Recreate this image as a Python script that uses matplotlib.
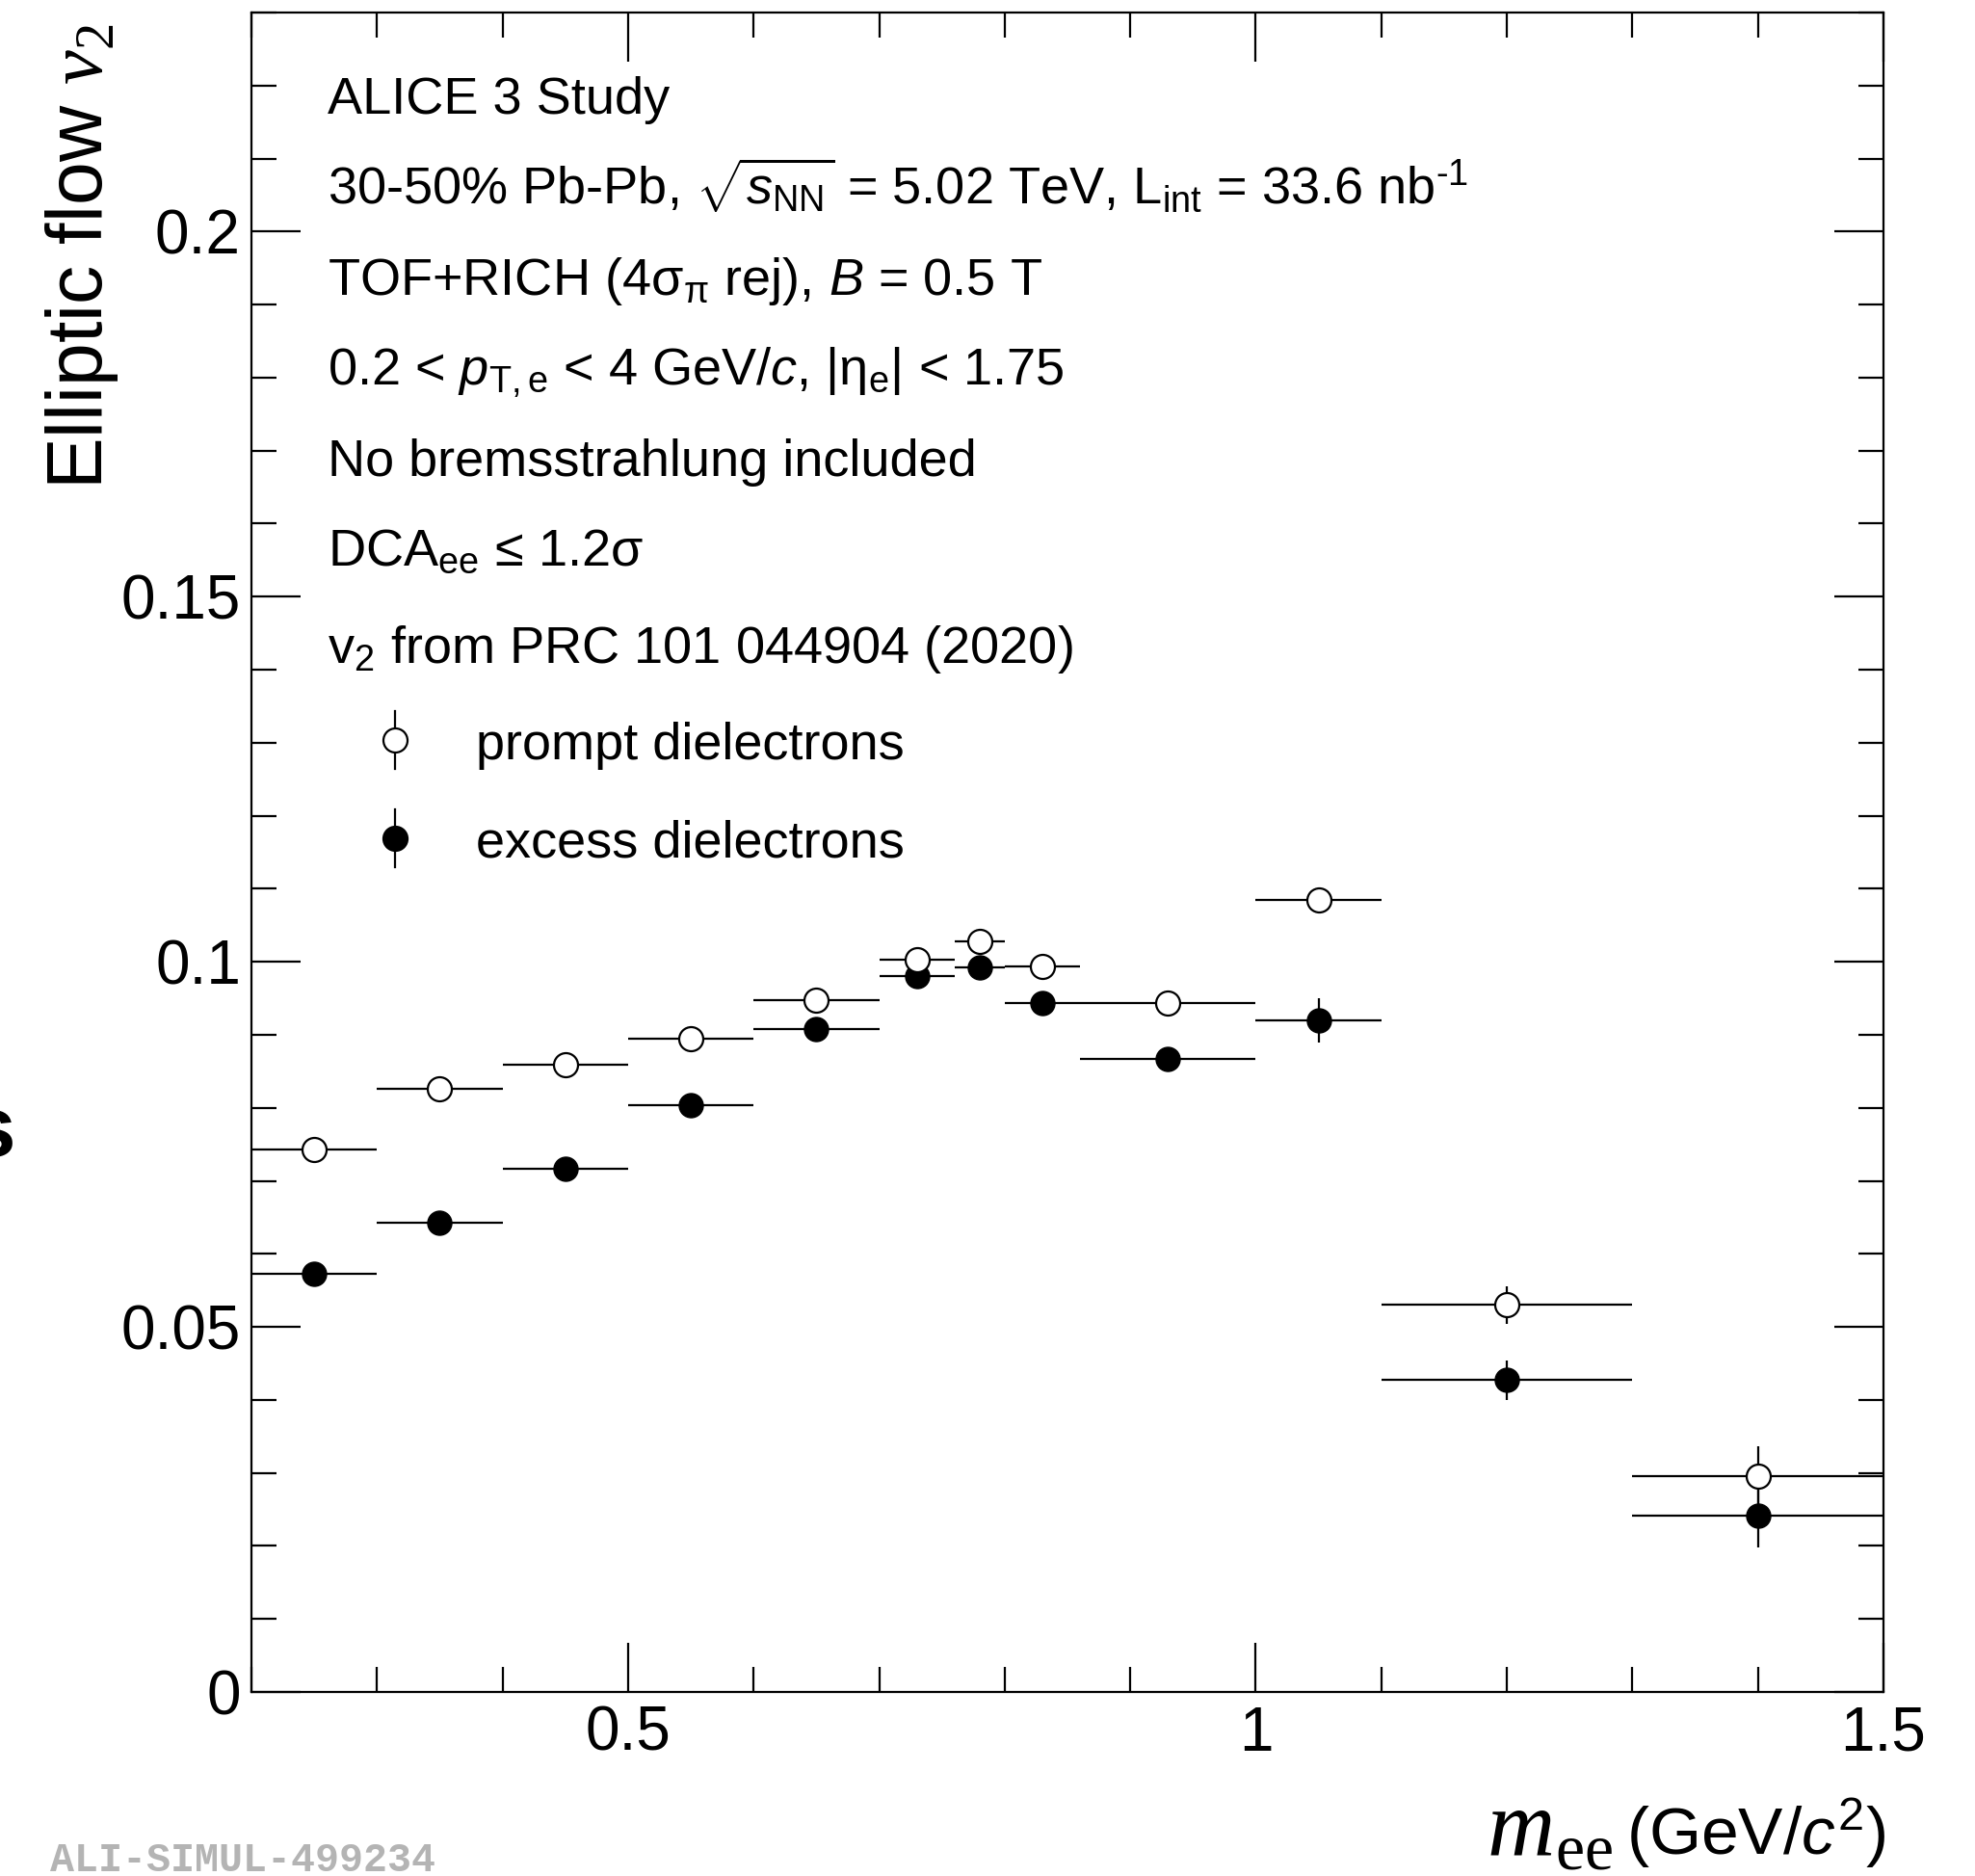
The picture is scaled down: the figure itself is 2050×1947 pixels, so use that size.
import matplotlib
matplotlib.use("Agg")
import matplotlib.pyplot as plt
import numpy as np
from matplotlib.lines import Line2D
from matplotlib.ticker import MultipleLocator, FixedLocator, FuncFormatter

plt.rcParams['font.family'] = ['Liberation Sans', 'DejaVu Sans']
plt.rcParams['mathtext.fontset'] = 'custom'
plt.rcParams['mathtext.rm'] = 'Liberation Sans'
plt.rcParams['mathtext.it'] = 'Liberation Sans:italic'
plt.rcParams['mathtext.sf'] = 'Liberation Serif'
plt.rcParams['mathtext.cal'] = 'Liberation Serif:italic'

# bins in m_ee (GeV/c^2)
mass_edges = np.array([0.2, 0.3, 0.4, 0.5, 0.6, 0.7, 0.76, 0.8, 0.86, 1.0, 1.1, 1.3, 1.5])

# prompt dielectrons v2
prompt_v2 = [0.0743, 0.0826, 0.0859, 0.0895, 0.0947, 0.1003, 0.1028, 0.0994,
             0.0943, 0.1085, 0.0530, 0.0295]
prompt_err = [0.0008, 0.0008, 0.0008, 0.0008, 0.0009, 0.0010, 0.0010, 0.0010,
              0.0010, 0.0012, 0.0026, 0.0041]

# excess dielectrons v2
excess_v2 = [0.0573, 0.0642, 0.0716, 0.0803, 0.0908, 0.0981, 0.0992, 0.0944,
             0.0867, 0.0920, 0.0427, 0.0241]
excess_err = [0.0009, 0.0009, 0.0009, 0.0010, 0.0010, 0.0011, 0.0011, 0.0011,
              0.0012, 0.0030, 0.0027, 0.0043]

info_lines = [
    "ALICE 3 Study",
    r"30-50% Pb-Pb, $\sqrt{s_{\mathrm{NN}}}$ = 5.02 TeV, L$_{\mathrm{int}}$ = 33.6 nb$^{\mathrm{‐1}}$",
    r"TOF+RICH (4σ$_{\mathrm{π}}$ rej), $B$ = 0.5 T",
    r"0.2 < $p_{\mathrm{T,e}}$ < 4 GeV/$c$, |η$_{\mathrm{e}}$| < 1.75",
    "No bremsstrahlung included",
    r"DCA$_{\mathrm{ee}}$ ≤ 1.2σ",
    r"v$_{2}$ from PRC 101 044904 (2020)",
]
legend_labels = ["prompt dielectrons", "excess dielectrons"]

W, H = 2050, 1947
def fx(px):
    return px / W
def fy(py):
    return 1 - py / H

fig = plt.figure(figsize=(W / 100, H / 100), dpi=100)
ax = fig.add_axes([fx(261), fy(1756), fx(1955) - fx(261), fy(13) - fy(1756)])

centers = 0.5 * (mass_edges[:-1] + mass_edges[1:])
half_w = 0.5 * (mass_edges[1:] - mass_edges[:-1])

lw = 1.6
ax.errorbar(centers, excess_v2, xerr=half_w, yerr=excess_err, fmt='o', ms=18,
            mfc='black', mec='black', ecolor='black', elinewidth=lw, capsize=0, zorder=3)
ax.errorbar(centers, prompt_v2, xerr=half_w, yerr=prompt_err, fmt='o', ms=18,
            mfc='white', mec='black', mew=1.6, ecolor='black', elinewidth=lw,
            capsize=0, zorder=4)

ax.set_xlim(0.2, 1.5)
ax.set_ylim(0, 0.23)
ax.xaxis.set_major_locator(FixedLocator([0.5, 1.0, 1.5]))
ax.xaxis.set_minor_locator(MultipleLocator(0.1))
ax.yaxis.set_major_locator(MultipleLocator(0.05))
ax.yaxis.set_minor_locator(MultipleLocator(0.01))
fmt = FuncFormatter(lambda v, p: ('%g' % round(v, 4)))
ax.xaxis.set_major_formatter(fmt)
ax.yaxis.set_major_formatter(fmt)

ax.tick_params(which='both', direction='in', top=True, right=True, width=1.6,
               labelsize=46)
ax.tick_params(which='major', length=37)
ax.tick_params(which='minor', length=19)
ax.tick_params(axis='x', which='major', pad=10)
ax.tick_params(axis='y', which='major', pad=8)
for s in ax.spines.values():
    s.set_linewidth(1.6)

# info text
baselines = [118, 212, 306, 400, 494, 587, 688]
for txt, b in zip(info_lines, baselines):
    fig.text(fx(340), fy(b), txt, fontsize=39, ha='left', va='baseline')

# legend
leg_y = [768, 870]
leg_base = [788, 890]
for i, (lab, yc, yb) in enumerate(zip(legend_labels, leg_y, leg_base)):
    fc = 'white' if i == 0 else 'black'
    fig.add_artist(Line2D([fx(410), fx(410)], [fy(yc - 30), fy(yc + 30)],
                          color='black', lw=lw))
    fig.add_artist(Line2D([fx(410)], [fy(yc)], marker='o', ms=18, mfc=fc,
                          mec='black', mew=1.6, ls='none'))
    fig.text(fx(494), fy(yb), lab, fontsize=39, ha='left', va='baseline')

# axis titles
fig.text(fx(85), fy(24), r'Elliptic flow $\mathcal{v}_{\mathsf{2}}$', rotation=90,
         fontsize=58, ha='center', va='top')
unit = fig.text(fx(1957), fy(1925), r'(GeV/$c^{2}$)', fontsize=50,
                ha='right', va='baseline')
fig.canvas.draw()
ux0 = unit.get_window_extent().x0
fig.text((ux0 - 14) / W, fy(1925), r'$\mathcal{m}_{\mathsf{ee}}$', fontsize=70,
         ha='right', va='baseline')

# leftover label fragment and id tag
fig.text(fx(16), fy(1200), 's', fontsize=64, fontweight='bold', ha='right',
         va='baseline')
fig.text(fx(52), fy(1942), 'ALI-SIMUL-499234', fontsize=30, fontweight='bold',
         family='Liberation Mono', color='#b4b4b4', ha='left', va='baseline')

fig.savefig('out.png', dpi=100)
